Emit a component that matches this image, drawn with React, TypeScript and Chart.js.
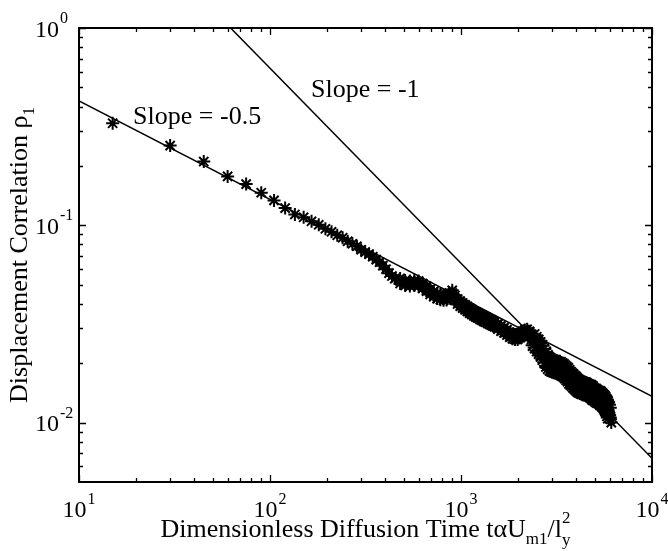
import { useEffect, useRef } from 'react';
import { Chart, registerables } from 'chart.js';

Chart.register(...registerables);

// Dimensionless diffusion time (x) and displacement correlation rho_1 (y): centre of the marker trail
const timeX = [
  15, 30, 45, 60, 75, 90, 105, 120, 135, 150,
  165, 180, 195, 210, 225, 240, 255, 270, 285, 300,
  315, 330, 345, 360, 375, 390, 405, 420, 435, 450,
  480, 510, 540, 570, 600, 630, 660, 690, 720, 750,
  780, 810, 840, 870, 900, 930, 960, 990, 1020, 1050,
  1080, 1110, 1140, 1170, 1200, 1230, 1260, 1290, 1320, 1350,
  1380, 1410, 1440, 1470, 1500,
  1560, 1620, 1680, 1740, 1800, 1860, 1920, 1980, 2040, 2100,
  2160, 2220, 2280, 2340, 2400, 2460, 2520, 2580, 2640, 2700,
  2760, 2820, 2880, 2940, 3000, 3060, 3120, 3180, 3240, 3300,
  3360, 3420, 3480, 3540, 3600, 3660, 3720, 3780, 3840, 3900,
  3960, 4020, 4080, 4140, 4200, 4260, 4320, 4380, 4440, 4500,
  4560, 4620, 4680, 4740, 4800, 4860, 4920, 4980, 5040, 5100,
  5160, 5220, 5280, 5340, 5400, 5460, 5520, 5580, 5640, 5700,
  5760, 5820, 5880, 5940, 6000, 6060, 6120,
];

const rhoY = [
  0.329, 0.2535, 0.2105, 0.177, 0.1617, 0.1463, 0.1337, 0.1222, 0.1135, 0.1098,
  0.1048, 0.1006, 0.096, 0.0927, 0.089, 0.0865, 0.083, 0.0806, 0.0783, 0.0752,
  0.0731, 0.0714, 0.0693, 0.067, 0.065, 0.0624, 0.0599, 0.0572, 0.0553, 0.0537,
  0.0522, 0.051, 0.0507, 0.0511, 0.0507, 0.0492, 0.0478, 0.0459, 0.0448, 0.0438,
  0.0433, 0.0429, 0.043, 0.0441, 0.0454, 0.0428, 0.0411, 0.0401, 0.0392, 0.0384,
  0.0377, 0.037, 0.0364, 0.0357, 0.0352, 0.0349, 0.0343, 0.0339, 0.0335, 0.0333,
  0.0328, 0.0324, 0.0321, 0.0318, 0.0315,
  0.0307, 0.03, 0.0293, 0.0286, 0.0279, 0.0274, 0.0272, 0.0272, 0.0277, 0.0282,
  0.0286, 0.0288, 0.0282, 0.0272, 0.0262, 0.0254, 0.0246, 0.0239, 0.0231, 0.0223,
  0.0214, 0.0206, 0.02, 0.0196, 0.0194, 0.0193, 0.0192, 0.0191, 0.019, 0.019,
  0.0187, 0.0185, 0.0182, 0.0179, 0.0176, 0.0173, 0.0169, 0.0166, 0.0164, 0.0161,
  0.0159, 0.0157, 0.0155, 0.0153, 0.0152, 0.0151, 0.015, 0.0149, 0.0149, 0.0148,
  0.0147, 0.0146, 0.0145, 0.0145, 0.0143, 0.0142, 0.014, 0.0139, 0.0139, 0.0137,
  0.0136, 0.0135, 0.0135, 0.0134, 0.0132, 0.0131, 0.0129, 0.0128, 0.0126, 0.0124,
  0.0122, 0.012, 0.0116, 0.0112, 0.0109, 0.0104, 0.01,
];

// Dense part of the record: upper and lower edges of the scattered band
const bandX = [
  480, 510, 540, 570, 600, 630, 660, 690, 720, 750,
  780, 810, 840, 870, 900, 930, 960, 990, 1020, 1050,
  1080, 1110, 1140, 1170, 1200, 1230, 1260, 1290, 1320, 1350,
  1380, 1410, 1440, 1470, 1500,
  1560, 1620, 1680, 1740, 1800, 1860, 1920, 1980, 2040, 2100,
  2160, 2220, 2280, 2340, 2400, 2460, 2520, 2580, 2640, 2700,
  2760, 2820, 2880, 2940, 3000, 3060, 3120, 3180, 3240, 3300,
  3360, 3420, 3480, 3540, 3600, 3660, 3720, 3780, 3840, 3900,
  3960, 4020, 4080, 4140, 4200, 4260, 4320, 4380, 4440, 4500,
  4560, 4620, 4680, 4740, 4800, 4860, 4920, 4980, 5040, 5100,
  5160, 5220, 5280, 5340, 5400, 5460, 5520, 5580, 5640, 5700,
  5760, 5820, 5880, 5940,
];

const rhoUpper = [
  0.0538, 0.0525, 0.0522, 0.0526, 0.0522, 0.0507, 0.0492, 0.0473, 0.0461, 0.0451,
  0.0446, 0.0442, 0.0443, 0.0454, 0.0468, 0.0441, 0.0423, 0.0413, 0.0404, 0.0396,
  0.0388, 0.0381, 0.0375, 0.0368, 0.0363, 0.0359, 0.0353, 0.0349, 0.0345, 0.0343,
  0.0338, 0.0334, 0.0331, 0.0328, 0.0324,
  0.0316, 0.0309, 0.0302, 0.0295, 0.0287, 0.0282, 0.028, 0.028, 0.0285, 0.029,
  0.0295, 0.0297, 0.029, 0.028, 0.0278, 0.0269, 0.0261, 0.0253, 0.0245, 0.0236,
  0.0227, 0.0218, 0.0212, 0.0208, 0.0206, 0.0205, 0.0204, 0.0202, 0.0201, 0.0201,
  0.0198, 0.0196, 0.0193, 0.019, 0.0187, 0.0183, 0.0179, 0.0176, 0.0174, 0.0171,
  0.0169, 0.0166, 0.0164, 0.0162, 0.0161, 0.016, 0.0159, 0.0158, 0.0158, 0.0157,
  0.0156, 0.0155, 0.0154, 0.0154, 0.0152, 0.0151, 0.0148, 0.0147, 0.0147, 0.0145,
  0.0144, 0.0143, 0.0143, 0.0142, 0.014, 0.0139, 0.0137, 0.0136, 0.0134, 0.0131,
  0.0129, 0.0127, 0.0123, 0.0119,
];

const rhoLower = [
  0.0507, 0.0495, 0.0492, 0.0496, 0.0492, 0.0478, 0.0464, 0.0446, 0.0435, 0.0425,
  0.042, 0.0417, 0.0418, 0.0428, 0.0441, 0.0416, 0.0399, 0.0389, 0.0381, 0.0373,
  0.0366, 0.0359, 0.0353, 0.0347, 0.0342, 0.0339, 0.0333, 0.0329, 0.0325, 0.0323,
  0.0318, 0.0315, 0.0312, 0.0309, 0.0306,
  0.0298, 0.0291, 0.0285, 0.0278, 0.0271, 0.0266, 0.0264, 0.0264, 0.0269, 0.0274,
  0.0278, 0.028, 0.0274, 0.0264, 0.0247, 0.024, 0.0232, 0.0225, 0.0218, 0.021,
  0.0202, 0.0194, 0.0189, 0.0185, 0.0183, 0.0182, 0.0181, 0.018, 0.0179, 0.0179,
  0.0176, 0.0174, 0.0172, 0.0169, 0.0166, 0.0163, 0.0159, 0.0157, 0.0155, 0.0152,
  0.015, 0.0148, 0.0146, 0.0144, 0.0143, 0.0142, 0.0141, 0.0141, 0.0141, 0.014,
  0.0139, 0.0138, 0.0137, 0.0137, 0.0135, 0.0134, 0.0132, 0.0131, 0.0131, 0.0129,
  0.0128, 0.0127, 0.0127, 0.0126, 0.0124, 0.0124, 0.0122, 0.0121, 0.0119, 0.0117,
  0.0115, 0.0113, 0.0109, 0.0106,
];

// Reference power-law lines (end points)
const slopeHalfX = [10, 10000];
const slopeHalfY = [0.427, 0.0136];
const slopeOneX = [62.2, 10000];
const slopeOneY = [1, 0.0066];

// Axis ticks
const xMajorTicks = [10, 100, 1000, 10000];
const xTickExponents = ['1', '2', '3', '4'];
const yMajorTicks = [1, 0.1, 0.01];
const yTickExponents = ['0', '-1', '-2'];

// Texts
const slopeHalfLabel = 'Slope = -0.5';
const slopeOneLabel = 'Slope = -1';
const xTitleMain = 'Dimensionless Diffusion Time t\u03B1U';
const xTitleSub1 = 'm1';
const xTitleMid = '/l';
const xTitleSub2 = 'y';
const xTitleSup = '2';
const yTitleMain = 'Displacement Correlation \u03C1';
const yTitleSub = '1';

const SERIF = "'Liberation Serif', 'Times New Roman', Times, serif";

const decorPlugin = {
  id: 'decor',
  afterDraw(chart: any) {
    const { ctx, chartArea: a, scales } = chart;
    const xs = scales.x;
    const ys = scales.y;
    ctx.save();
    ctx.strokeStyle = '#000';
    ctx.fillStyle = '#000';

    // tick marks (inward, all four sides)
    ctx.lineWidth = 1.3;
    ctx.beginPath();
    for (let e = 1; e <= 4; e++) {
      for (let m = 1; m <= 9; m++) {
        const v = m * Math.pow(10, e);
        if (v > 10000) continue;
        const px = Math.round(xs.getPixelForValue(v)) + 0.5;
        const len = m === 1 ? 7 : 4;
        ctx.moveTo(px, a.bottom);
        ctx.lineTo(px, a.bottom - len);
        ctx.moveTo(px, a.top);
        ctx.lineTo(px, a.top + len);
      }
    }
    for (let e = -3; e <= 0; e++) {
      for (let m = 1; m <= 9; m++) {
        const v = m * Math.pow(10, e);
        if (v < 0.0059 || v > 1.0001) continue;
        const py = Math.round(ys.getPixelForValue(v)) + 0.5;
        const len = m === 1 ? 7 : 4;
        ctx.moveTo(a.left, py);
        ctx.lineTo(a.left + len, py);
        ctx.moveTo(a.right, py);
        ctx.lineTo(a.right - len, py);
      }
    }
    ctx.stroke();

    // frame
    ctx.lineWidth = 2;
    ctx.strokeRect(a.left, a.top, a.right - a.left, a.bottom - a.top);

    // x tick labels
    ctx.textBaseline = 'alphabetic';
    ctx.textAlign = 'left';
    xMajorTicks.forEach((v, i) => {
      const px = xs.getPixelForValue(v);
      ctx.font = `24px ${SERIF}`;
      const w10 = ctx.measureText('10').width;
      ctx.font = `16px ${SERIF}`;
      const ws = ctx.measureText(xTickExponents[i]).width;
      const start = px - (w10 + 1 + ws) / 2;
      const base = a.bottom + 35;
      ctx.font = `24px ${SERIF}`;
      ctx.fillText('10', start, base);
      ctx.font = `16px ${SERIF}`;
      ctx.fillText(xTickExponents[i], start + w10 + 1, base - 13);
    });

    // y tick labels
    yMajorTicks.forEach((v, i) => {
      const py = ys.getPixelForValue(v);
      const start = a.left - 44;
      ctx.font = `24px ${SERIF}`;
      const w10 = ctx.measureText('10').width;
      ctx.fillText('10', start, py + 8.5);
      ctx.font = `16px ${SERIF}`;
      ctx.fillText(yTickExponents[i], start + w10 + 1, py - 5);
    });

    // x title
    const big = `26px ${SERIF}`;
    const small = `17px ${SERIF}`;
    ctx.font = big;
    const wMain = ctx.measureText(xTitleMain).width;
    const wMid = ctx.measureText(xTitleMid).width;
    ctx.font = small;
    const wSub1 = ctx.measureText(xTitleSub1).width;
    const wSub2 = Math.max(ctx.measureText(xTitleSub2).width, ctx.measureText(xTitleSup).width);
    const total = wMain + wSub1 + wMid + wSub2;
    let cx = (a.left + a.right) / 2 - total / 2;
    const xb = a.bottom + 55;
    ctx.font = big;
    ctx.fillText(xTitleMain, cx, xb);
    cx += wMain;
    ctx.font = small;
    ctx.fillText(xTitleSub1, cx, xb + 7);
    cx += wSub1;
    ctx.font = big;
    ctx.fillText(xTitleMid, cx, xb);
    cx += wMid;
    ctx.font = small;
    ctx.fillText(xTitleSub2, cx, xb + 8);
    ctx.fillText(xTitleSup, cx, xb - 14);

    // y title (rotated)
    ctx.save();
    ctx.translate(27, (a.top + a.bottom) / 2);
    ctx.rotate(-Math.PI / 2);
    ctx.font = big;
    const wy = ctx.measureText(yTitleMain).width;
    ctx.font = small;
    const wys = ctx.measureText(yTitleSub).width;
    const ys0 = -(wy + wys) / 2;
    ctx.font = big;
    ctx.fillText(yTitleMain, ys0, 0);
    ctx.font = small;
    ctx.fillText(yTitleSub, ys0 + wy, 7);
    ctx.restore();

    // slope annotations (anchored in data coordinates)
    ctx.font = big;
    ctx.fillText(slopeHalfLabel, xs.getPixelForValue(19.2), ys.getPixelForValue(0.325));
    ctx.fillText(slopeOneLabel, xs.getPixelForValue(164), ys.getPixelForValue(0.449));

    ctx.restore();
  },
};

const markerStyle = {
  pointStyle: 'star' as const,
  pointRadius: 6.5,
  pointBorderWidth: 2,
  borderColor: '#000',
  backgroundColor: '#000',
  showLine: false,
};

// band markers spread a little more in the late, noisier part of the record
const bandRadius = (c: any) => (c.raw && c.raw.x >= 2400 ? 8 : 6.5);

export default function App() {
  const ref = useRef<HTMLCanvasElement>(null);

  useEffect(() => {
    const canvas = ref.current;
    if (!canvas) return;
    const chart = new Chart(canvas, {
      type: 'scatter',
      data: {
        datasets: [
          {
            label: 'rho1',
            data: timeX.map((x, i) => ({ x, y: rhoY[i] })),
            ...markerStyle,
          },
          {
            label: 'rho1 upper',
            data: bandX.map((x, i) => ({ x, y: rhoUpper[i] })),
            ...markerStyle,
            pointRadius: bandRadius,
          },
          {
            label: 'rho1 lower',
            data: bandX.map((x, i) => ({ x, y: rhoLower[i] })),
            ...markerStyle,
            pointRadius: bandRadius,
          },
          {
            label: 'Slope = -0.5',
            data: slopeHalfX.map((x, i) => ({ x, y: slopeHalfY[i] })),
            showLine: true,
            pointRadius: 0,
            borderWidth: 1.5,
            borderColor: '#000',
            backgroundColor: '#000',
          },
          {
            label: 'Slope = -1',
            data: slopeOneX.map((x, i) => ({ x, y: slopeOneY[i] })),
            showLine: true,
            pointRadius: 0,
            borderWidth: 1.5,
            borderColor: '#000',
            backgroundColor: '#000',
          },
        ],
      },
      options: {
        responsive: false,
        animation: false,
        events: [],
        layout: { padding: { left: 79, right: 16, top: 28, bottom: 69 } },
        plugins: {
          legend: { display: false },
          tooltip: { enabled: false },
        },
        scales: {
          x: { type: 'logarithmic', min: 10, max: 10000, display: false },
          y: { type: 'logarithmic', min: 0.005, max: 1, display: false },
        },
      },
      plugins: [decorPlugin],
    });
    return () => chart.destroy();
  }, []);

  return (
    <div style={{ position: 'absolute', left: 0, top: 0, width: 668, height: 551, background: '#fff' }}>
      <canvas ref={ref} width={668} height={551} style={{ display: 'block', width: 668, height: 551 }} />
    </div>
  );
}
